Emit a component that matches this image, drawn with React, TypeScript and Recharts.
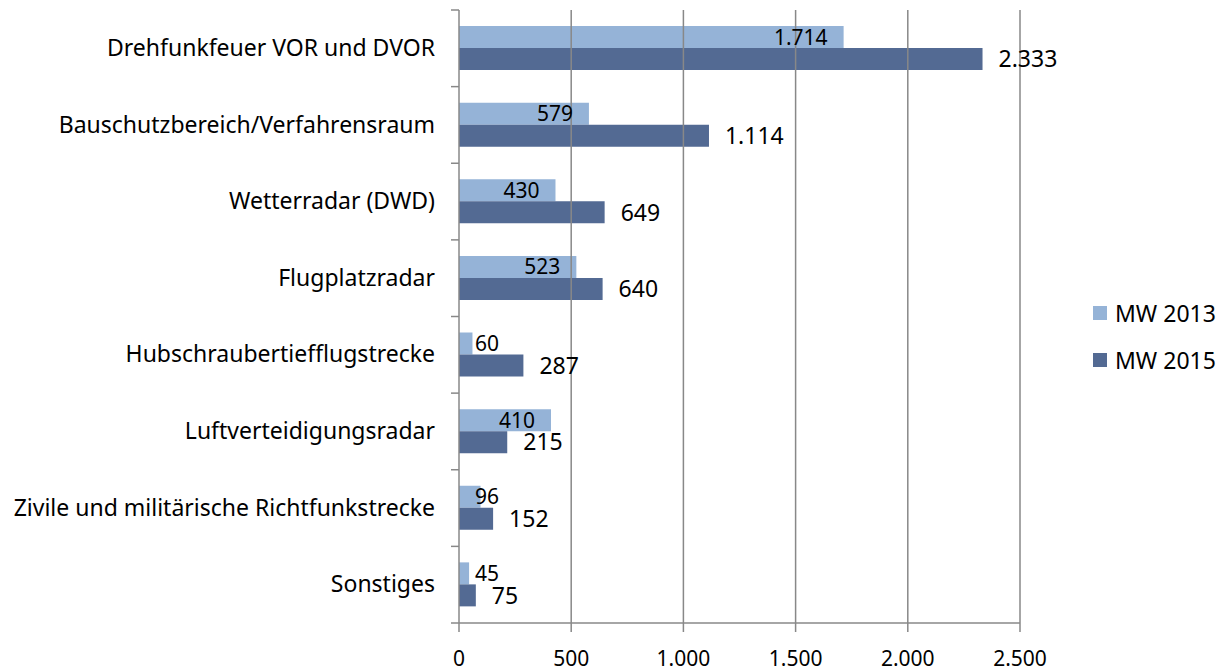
import {
  BarChart, Bar, XAxis, YAxis, ReferenceLine, Legend, LabelList,
} from "recharts";

const categories = [
  "Drehfunkfeuer VOR und DVOR",
  "Bauschutzbereich/Verfahrensraum",
  "Wetterradar (DWD)",
  "Flugplatzradar",
  "Hubschraubertiefflugstrecke",
  "Luftverteidigungsradar",
  "Zivile und militärische Richtfunkstrecke",
  "Sonstiges",
];
const mw2013 = [1714, 579, 430, 523, 60, 410, 96, 45];
const mw2015 = [2333, 1114, 649, 640, 287, 215, 152, 75];
const xTicks = [0, 500, 1000, 1500, 2000, 2500];
const series = [
  { key: "mw2013", name: "MW 2013", color: "#95B3D7" },
  { key: "mw2015", name: "MW 2015", color: "#536A93" },
];

const FONT = "'Noto Sans', sans-serif";
const AXIS = "#888888";

const fmt = (v: number) => String(v).replace(/\B(?=(\d{3})+(?!\d))/g, ".");

// rough width of a number label in Noto Sans
const numWidth = (s: string, size: number) =>
  s.split("").reduce((w, c) => w + (c === "." ? 0.268 : 0.572) * size, 0);

const data = categories.map((name, i) => ({ name, mw2013: mw2013[i], mw2015: mw2015[i] }));

function InsideEndLabel(props: any) {
  const { x, y, width, height, value } = props;
  const text = fmt(value);
  const size = 21;
  const end = x + width - 16;
  const clamped = end - numWidth(text, size) < x + 16;
  return (
    <text
      x={clamped ? x + 16 : end}
      y={y + height / 2}
      dy="0.36em"
      textAnchor={clamped ? "start" : "end"}
      fontSize={size}
      fontFamily={FONT}
      fill="#000"
    >
      {text}
    </text>
  );
}

function OutsideEndLabel(props: any) {
  const { x, y, width, height, value } = props;
  return (
    <text x={x + width + 16} y={y + height / 2} dy="0.36em" fontSize={23} fontFamily={FONT} fill="#000">
      {fmt(value)}
    </text>
  );
}

function CategoryTick(props: any) {
  const { x, y, payload, index } = props;
  const half = payload.offset ?? 38.3;
  const last = index === categories.length - 1;
  return (
    <g>
      <line x1={x + 16} x2={x + 24} y1={y - half} y2={y - half} stroke={AXIS} strokeWidth={1.5} />
      {last && <line x1={x + 16} x2={x + 24} y1={y + half} y2={y + half} stroke={AXIS} strokeWidth={1.5} />}
      <text x={x} y={y} dy="0.33em" textAnchor="end" fontSize={23} fontFamily={FONT} fill="#000">
        {payload.value}
      </text>
    </g>
  );
}

function LegendBox() {
  return (
    <div style={{ fontFamily: FONT, fontSize: 23, color: "#000" }}>
      {series.map((s) => (
        <div key={s.key} style={{ display: "flex", alignItems: "center", height: 47 }}>
          <span style={{ width: 14, height: 14, background: s.color, marginRight: 8 }} />
          {s.name}
        </div>
      ))}
    </div>
  );
}

export default function App() {
  return (
    <div style={{ position: "absolute", left: 0, top: 0, background: "#fff" }}>
      <BarChart
        width={1231}
        height={672}
        data={data}
        layout="vertical"
        margin={{ top: 10, right: 211, left: 0, bottom: 0 }}
        barSize={22}
        barGap={0}
        style={{ fontFamily: FONT }}
      >
        <XAxis
          type="number"
          domain={[0, 2500]}
          ticks={xTicks}
          tickFormatter={fmt}
          height={49}
          tickSize={9}
          tickMargin={19}
          axisLine={{ stroke: AXIS, strokeWidth: 1.5 }}
          tickLine={{ stroke: AXIS, strokeWidth: 1.5 }}
          tick={{ fontSize: 21, fill: "#000", fontFamily: FONT }}
        />
        <YAxis
          type="category"
          dataKey="name"
          width={459}
          tickSize={8}
          tickMargin={16}
          tickLine={false}
          axisLine={{ stroke: AXIS, strokeWidth: 1.5 }}
          tick={<CategoryTick />}
          interval={0}
        />
        {series.map((s, i) => (
          <Bar key={s.key} dataKey={s.key} name={s.name} fill={s.color} isAnimationActive={false}>
            <LabelList dataKey={s.key} content={i === 0 ? <InsideEndLabel /> : <OutsideEndLabel />} />
          </Bar>
        ))}
        {xTicks.slice(1).map((t) => (
          <ReferenceLine key={t} x={t} stroke={AXIS} strokeWidth={1.5} />
        ))}
        <Legend
          layout="vertical"
          align="center"
          verticalAlign="middle"
          content={<LegendBox />}
          wrapperStyle={{ left: 1093, top: 289, width: "auto" }}
        />
      </BarChart>
    </div>
  );
}
